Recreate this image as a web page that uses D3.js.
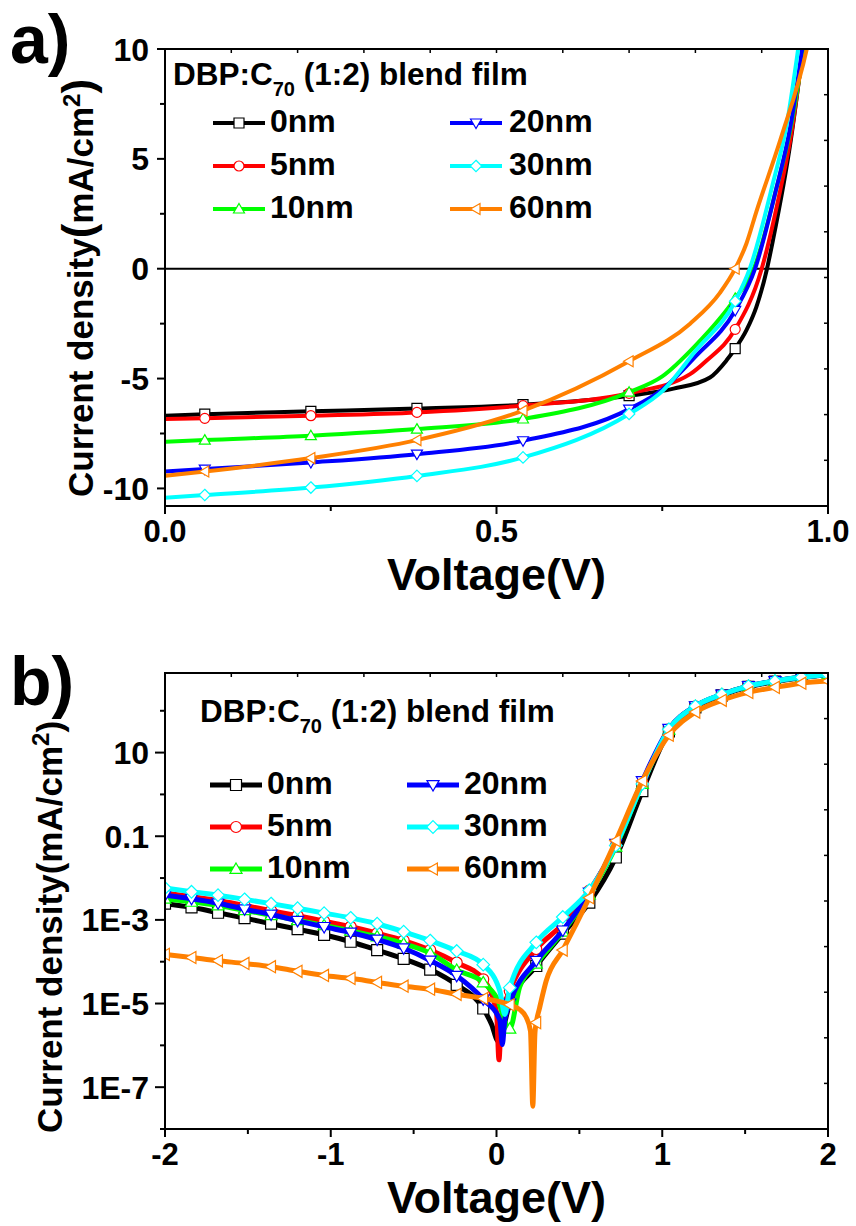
<!DOCTYPE html>
<html lang="en">
<head>
<meta charset="utf-8">
<title>DBP:C70 blend film J-V</title>
<script src="https://cdn.jsdelivr.net/npm/d3@7"></script>
<style>
  body { margin: 0; background: #fff; }
  svg text { font-family: "Liberation Sans", Arial, sans-serif; font-weight: bold; fill: #000; }
</style>
</head>
<body>
<script>
// series (legend order)
var names = ["0nm", "5nm", "10nm", "20nm", "30nm", "60nm"];
var colors = ["#000000", "#ff0000", "#00ff00", "#0000ff", "#00ffff", "#ff8000"];
var shapes = ["square", "circle", "triUp", "triDown", "diamond", "triLeft"];

// a) J-V under illumination : [V, J (mA/cm2)]
var jvMarkerV = [0.06, 0.22, 0.38, 0.54, 0.70, 0.86];
var jv0nm  = [[0,-6.69],[0.06,-6.62],[0.22,-6.49],[0.38,-6.36],[0.54,-6.19],[0.70,-5.78],[0.767,-5.46],[0.822,-4.95],[0.847,-4.17],[0.86,-3.64],[0.877,-2.8],[0.892,-1.74],[0.908,0],[0.917,1.3],[0.944,5.87],[0.962,10],[0.968,11.5]];
var jv5nm  = [[0,-6.84],[0.06,-6.81],[0.22,-6.69],[0.38,-6.54],[0.54,-6.23],[0.70,-5.67],[0.792,-4.8],[0.817,-4.18],[0.86,-2.76],[0.90,0],[0.928,3.58],[0.945,6.2],[0.962,10],[0.968,11.5]];
var jv10nm = [[0,-7.88],[0.06,-7.8],[0.22,-7.6],[0.38,-7.3],[0.54,-6.84],[0.70,-5.62],[0.75,-4.9],[0.80,-3.5],[0.86,-1.35],[0.888,0],[0.92,3.4],[0.945,6.6],[0.963,10],[0.97,11.5]];
var jv20nm = [[0,-9.23],[0.06,-9.12],[0.22,-8.82],[0.38,-8.44],[0.54,-7.83],[0.70,-6.39],[0.75,-5.5],[0.80,-4.0],[0.86,-1.9],[0.89,0],[0.92,3.4],[0.944,6.6],[0.961,10],[0.968,11.5]];
var jv30nm = [[0,-10.42],[0.06,-10.3],[0.22,-9.96],[0.38,-9.43],[0.54,-8.59],[0.70,-6.61],[0.751,-5.55],[0.80,-3.75],[0.86,-1.48],[0.882,0],[0.917,3.9],[0.938,6.6],[0.955,10],[0.962,11.5]];
var jv60nm = [[0,-9.43],[0.06,-9.23],[0.22,-8.62],[0.38,-7.8],[0.54,-6.46],[0.70,-4.21],[0.792,-2.5],[0.837,-1.1],[0.86,0],[0.877,1.15],[0.892,2.6],[0.928,5.85],[0.968,10],[0.975,11]];
var jvSeries = [jv0nm, jv5nm, jv10nm, jv20nm, jv30nm, jv60nm];
var jvXTicks = [0, 0.5, 1.0];
var jvXLabels = ["0.0", "0.5", "1.0"];
var jvXMinor = [0.25, 0.75];
var jvYTicks = [-10, -5, 0, 5, 10];
var jvYMinor = [-7.5, -2.5, 2.5, 7.5];

// b) dark J-V, semilog : [V, |J| (mA/cm2)]
var darkMarkerV = [-2, -1.84, -1.68, -1.52, -1.36, -1.20, -1.04, -0.88, -0.72, -0.56, -0.40, -0.24, -0.08,
                   0.08, 0.24, 0.40, 0.56, 0.72, 0.88, 1.04, 1.20, 1.36, 1.52, 1.68, 1.84, 2.0];
var dark0nm = [[-2,2.45e-3],[-1.84,2.0e-3],[-1.68,1.48e-3],[-1.52,1.1e-3],[-1.36,8.1e-4],[-1.20,6.0e-4],[-1.04,4.4e-4],[-0.88,3.0e-4],[-0.72,1.9e-4],[-0.56,1.17e-4],[-0.40,6.5e-5],[-0.24,2.8e-5],[-0.08,7.6e-6],[-0.03,3.2e-6],[0.01,1.26e-6],[0.08,1.0e-5],[0.24,7.9e-5],[0.40,4.7e-4],[0.56,2.6e-3],[0.72,3.1e-2],[0.88,1.2],[1.04,32],[1.20,120],[1.36,234],[1.52,372],[1.68,500],[1.84,617],[2.0,725]];
var dark5nm = [[-2,4.4e-3],[-1.84,3.6e-3],[-1.68,2.9e-3],[-1.52,2.2e-3],[-1.36,1.66e-3],[-1.20,1.26e-3],[-1.04,9.3e-4],[-0.88,6.9e-4],[-0.72,4.8e-4],[-0.56,3.2e-4],[-0.40,1.9e-4],[-0.24,9.5e-5],[-0.08,3.8e-5],[0.0,6.3e-6],[0.015,4.5e-7],[0.03,5.0e-6],[0.08,2.0e-5],[0.24,2.0e-4],[0.40,7.9e-4],[0.56,5.0e-3],[0.72,6.0e-2],[0.88,1.9],[1.04,36],[1.20,128],[1.36,244],[1.52,388],[1.68,512],[1.84,630],[2.0,748]];
var dark10nm = [[-2,3.2e-3],[-1.84,2.7e-3],[-1.68,2.2e-3],[-1.52,1.7e-3],[-1.36,1.29e-3],[-1.20,9.8e-4],[-1.04,7.4e-4],[-0.88,5.5e-4],[-0.72,4.0e-4],[-0.56,2.7e-4],[-0.40,1.6e-4],[-0.24,6.3e-5],[-0.08,3.2e-5],[0.0,1.4e-5],[0.08,2.5e-6],[0.14,2.5e-5],[0.24,8.9e-5],[0.40,5.2e-4],[0.56,4.0e-3],[0.72,5.6e-2],[0.88,1.78],[1.04,35],[1.20,128],[1.36,244],[1.52,388],[1.68,512],[1.84,630],[2.0,748]];
var dark20nm = [[-2,3.9e-3],[-1.84,3.2e-3],[-1.68,2.5e-3],[-1.52,1.8e-3],[-1.36,1.35e-3],[-1.20,9.5e-4],[-1.04,6.8e-4],[-0.88,5.0e-4],[-0.72,3.4e-4],[-0.56,2.1e-4],[-0.40,1.07e-4],[-0.24,4.6e-5],[-0.08,1.26e-5],[0.02,4.0e-6],[0.035,1.05e-6],[0.05,4.0e-6],[0.08,1.0e-5],[0.24,1.05e-4],[0.40,5.6e-4],[0.56,4.5e-3],[0.72,6.6e-2],[0.88,2.1],[1.04,37],[1.20,129],[1.36,245],[1.52,389],[1.68,513],[1.84,631],[2.0,750]];
var dark30nm = [[-2,5.8e-3],[-1.84,4.7e-3],[-1.68,3.9e-3],[-1.52,3.1e-3],[-1.36,2.45e-3],[-1.20,1.9e-3],[-1.04,1.45e-3],[-0.88,1.12e-3],[-0.72,8.1e-4],[-0.56,5.2e-4],[-0.40,3.2e-4],[-0.24,1.8e-4],[-0.08,8.5e-5],[0.02,2.0e-5],[0.05,5.5e-6],[0.08,2.4e-5],[0.24,2.9e-4],[0.40,1.17e-3],[0.56,5.1e-3],[0.72,6.0e-2],[0.88,1.78],[1.04,36],[1.20,129],[1.36,245],[1.52,389],[1.68,513],[1.84,631],[2.0,750]];
var dark60nm = [[-2,1.5e-4],[-1.84,1.26e-4],[-1.68,1.05e-4],[-1.52,9.1e-5],[-1.36,7.6e-5],[-1.20,5.9e-5],[-1.04,4.7e-5],[-0.88,4.0e-5],[-0.72,3.2e-5],[-0.56,2.6e-5],[-0.40,2.2e-5],[-0.24,1.66e-5],[-0.08,1.32e-5],[0.08,9.3e-6],[0.14,7.2e-6],[0.18,4.6e-6],[0.205,2.2e-6],[0.219,3.5e-8],[0.232,2.0e-6],[0.24,3.5e-6],[0.26,7.9e-6],[0.30,3.5e-5],[0.40,1.9e-4],[0.56,3.4e-3],[0.72,7.8e-2],[0.88,2.1],[1.04,26],[1.20,93],[1.36,178],[1.52,275],[1.68,363],[1.84,457],[2.0,513]];
var darkSeries = [dark0nm, dark5nm, dark10nm, dark20nm, dark30nm, dark60nm];
var darkXTicks = [-2, -1, 0, 1, 2];
var darkXMinor = [-1.5, -0.5, 0.5, 1.5];
var darkYTicks = [1e-7, 1e-5, 1e-3, 0.1, 10];
var darkYLabels = ["1E-7", "1E-5", "1E-3", "0.1", "10"];

var width = 856, height = 1226;

var svg = d3.select("body").append("svg")
            .attr("width", width)
            .attr("height", height);

function markerPath(shape, s) {
  var h = s / 2;
  if (shape == "square") return "M" + (-h) + "," + (-h) + "h" + s + "v" + s + "h" + (-s) + "Z";
  if (shape == "circle") return d3.symbol(d3.symbolCircle, Math.PI * h * h)();
  if (shape == "diamond") return "M0," + (-h * 1.15) + "L" + (h * 1.15) + ",0L0," + (h * 1.15) + "L" + (-h * 1.15) + ",0Z";
  var tri = [[0, -h * 1.1], [h * 1.1, h * 0.8], [-h * 1.1, h * 0.8]];
  var rot = shape == "triDown" ? Math.PI : (shape == "triLeft" ? -Math.PI / 2 : 0);
  return "M" + tri.map(function(p) {
    var c = Math.cos(rot), sn = Math.sin(rot);
    return (p[0] * c - p[1] * sn).toFixed(2) + "," + (p[0] * sn + p[1] * c).toFixed(2);
  }).join("L") + "Z";
}

function drawPanel(p) {
  var x = p.x, y = p.y;
  var x0 = x.range()[0], x1 = x.range()[1];
  var yb = y.range()[0], yt = y.range()[1];
  var g = svg.append("g");

  g.append("clipPath").attr("id", p.id + "clip")
   .append("rect")
   .attr("x", x0).attr("y", yt)
   .attr("width", x1 - x0).attr("height", yb - yt);

  if (p.zeroLine) {
    g.append("line")
     .attr("x1", x0).attr("x2", x1)
     .attr("y1", y(0)).attr("y2", y(0))
     .attr("stroke", "black").attr("stroke-width", 2);
  }

  var line = d3.line()
               .x(function(d) { return x(d[0]); })
               .y(function(d) { return y(d[1]); })
               .curve(d3.curveMonotoneX);

  var plot = g.append("g").attr("clip-path", "url(#" + p.id + "clip)");
  p.series.forEach(function(s, i) {
    plot.append("path")
        .attr("d", line(s))
        .attr("fill", "none")
        .attr("stroke", colors[i])
        .attr("stroke-width", p.lineWidth)
        .attr("stroke-linejoin", "round")
        .attr("stroke-linecap", "round");
    plot.selectAll(".m" + i)
        .data(s.filter(function(d) { return p.markerV.indexOf(d[0]) >= 0; }))
        .enter()
        .append("path")
        .attr("class", "m" + i)
        .attr("d", markerPath(shapes[i], p.markerSize))
        .attr("transform", function(d) { return "translate(" + x(d[0]) + "," + y(d[1]) + ")"; })
        .attr("fill", "white")
        .attr("stroke", colors[i])
        .attr("stroke-width", 1.2);
  });

  // frame
  g.append("rect")
   .attr("x", x0).attr("y", yt)
   .attr("width", x1 - x0).attr("height", yb - yt)
   .attr("fill", "none").attr("stroke", "black").attr("stroke-width", 2);

  // bottom / left ticks (outward)
  function tick(x1_, y1_, x2_, y2_) {
    g.append("line")
     .attr("x1", x1_).attr("y1", y1_).attr("x2", x2_).attr("y2", y2_)
     .attr("stroke", "black").attr("stroke-width", 2);
  }
  p.xTicks.forEach(function(v) { tick(x(v), yb, x(v), yb + 8); });
  p.xMinor.forEach(function(v) { tick(x(v), yb, x(v), yb + 5); });
  p.yTicks.forEach(function(v) { tick(x0, y(v), x0 - p.yMajorLen, y(v)); });
  p.yMinor.forEach(function(v) { tick(x0, y(v), x0 - 5, y(v)); });

  // top / right small inward ticks, 10 divisions
  var topScale = d3.scaleLinear().domain([0, 10]).range([x0, x1]);
  var rightScale = d3.scaleLinear().domain([0, 10]).range([yb, yt]);
  topScale.ticks(10).forEach(function(v) {
    g.append("line").attr("x1", topScale(v)).attr("x2", topScale(v))
     .attr("y1", yt).attr("y2", yt + 4).attr("stroke", "black").attr("stroke-width", 1.5);
  });
  rightScale.ticks(10).forEach(function(v) {
    g.append("line").attr("y1", rightScale(v)).attr("y2", rightScale(v))
     .attr("x1", x1).attr("x2", x1 - 4).attr("stroke", "black").attr("stroke-width", 1.5);
  });

  // tick labels
  g.selectAll(".xl").data(p.xTicks).enter().append("text")
   .attr("x", function(d) { return x(d); })
   .attr("y", yb + 36)
   .attr("text-anchor", "middle")
   .attr("font-size", 31)
   .text(function(d, i) { return p.xLabels[i]; });
  g.selectAll(".yl").data(p.yTicks).enter().append("text")
   .attr("x", x0 - 16)
   .attr("y", function(d) { return y(d); })
   .attr("dy", "0.36em")
   .attr("text-anchor", "end")
   .attr("font-size", 32)
   .text(function(d, i) { return p.yLabels[i]; });

  // axis titles
  g.append("text")
   .attr("x", (x0 + x1) / 2)
   .attr("y", yb + 84)
   .attr("text-anchor", "middle")
   .attr("font-size", 45)
   .text("Voltage(V)");

  var yl = g.append("text")
            .attr("transform", "translate(" + p.yTitleX + "," + p.yTitleY + ") rotate(-90)")
            .attr("font-size", 35);
  yl.append("tspan").text("Current density");
  yl.append("tspan").attr("font-size", p.parenSize).text("(");
  yl.append("tspan").text("mA/cm");
  yl.append("tspan").attr("font-size", 24).attr("dy", -13).text("2");
  yl.append("tspan").attr("font-size", p.parenSize).attr("dy", 13).text(")");

  // panel letter
  g.append("text").attr("x", 10).attr("y", p.letterY)
   .attr("font-size", 68).text(p.letter);

  // legend
  var lt = g.append("text").attr("x", p.legend.titleX).attr("y", p.legend.titleY)
            .attr("font-size", 31.5);
  lt.append("tspan").text("DBP:C");
  lt.append("tspan").attr("font-size", 20).attr("dy", 11).text("70");
  lt.append("tspan").attr("dy", -11).text(" (1:2) blend film");

  names.forEach(function(n, i) {
    var col = Math.floor(i / 3), row = i % 3;
    var c = p.legend.cols[col];
    var ry = p.legend.rows[row];
    g.append("line")
     .attr("x1", c[0]).attr("x2", c[0] + 52)
     .attr("y1", ry).attr("y2", ry)
     .attr("stroke", colors[i]).attr("stroke-width", p.lineWidth);
    g.append("path")
     .attr("d", markerPath(shapes[i], p.markerSize))
     .attr("transform", "translate(" + (c[0] + 26) + "," + ry + ")")
     .attr("fill", "white").attr("stroke", colors[i]).attr("stroke-width", 1.2);
    g.append("text")
     .attr("x", c[1]).attr("y", ry + 9)
     .attr("font-size", 32)
     .text(n);
  });
}

// panel a
var xA = d3.scaleLinear().domain([0, 1]).range([165, 828]);
var yA = d3.scaleLinear().domain([-10.8, 10]).range([506, 49]);
drawPanel({
  id: "a", x: xA, y: yA, series: jvSeries, markerV: jvMarkerV,
  lineWidth: 4, markerSize: 10, zeroLine: true,
  xTicks: jvXTicks, xLabels: jvXLabels, xMinor: jvXMinor,
  yTicks: jvYTicks, yLabels: jvYTicks.map(String), yMinor: jvYMinor, yMajorLen: 8,
  yTitleX: 93, yTitleY: 497, parenSize: 44,
  letter: "a)", letterY: 63,
  legend: { titleX: 173, titleY: 85, rows: [123, 166, 209], cols: [[213, 270], [450, 509]] }
});

// panel b
var xB = d3.scaleLinear().domain([-2, 2]).range([165, 828]);
var yB = d3.scaleLog().domain([1e-8, 800]).range([1129, 673]);
var decades = yB.ticks().filter(function(v) { return Math.abs(Math.log10(v) - Math.round(Math.log10(v))) < 1e-6; });
var minors = yB.ticks().filter(function(v) { return decades.indexOf(v) < 0; });
drawPanel({
  id: "b", x: xB, y: yB, series: darkSeries, markerV: darkMarkerV,
  lineWidth: 5, markerSize: 11, zeroLine: false,
  xTicks: darkXTicks, xLabels: darkXTicks.map(String), xMinor: darkXMinor,
  yTicks: darkYTicks, yLabels: darkYLabels, yMinor: minors.concat(decades.filter(function(v) { return darkYTicks.indexOf(v) < 0; })),
  yMajorLen: 10,
  yTitleX: 62, yTitleY: 1133, parenSize: 35,
  letter: "b)", letterY: 705,
  legend: { titleX: 200, titleY: 722, rows: [785, 827, 869], cols: [[210, 267], [407, 464]] }
});
</script>
</body>
</html>
